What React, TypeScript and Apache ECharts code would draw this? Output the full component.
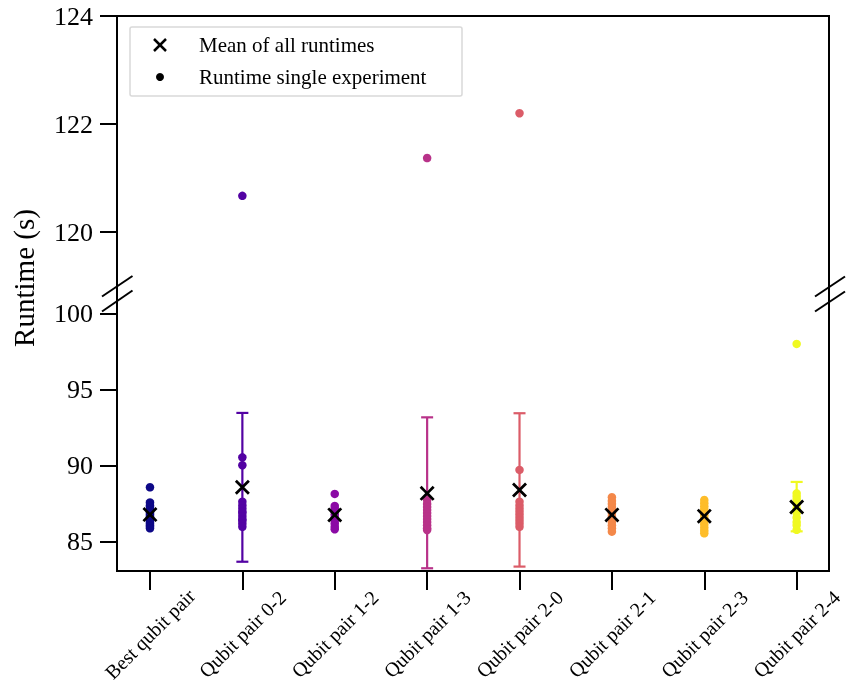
import React, { useEffect, useRef } from "react";
import * as echarts from "echarts";

const categories = [
  "Best qubit pair",
  "Qubit pair 0-2",
  "Qubit pair 1-2",
  "Qubit pair 1-3",
  "Qubit pair 2-0",
  "Qubit pair 2-1",
  "Qubit pair 2-3",
  "Qubit pair 2-4",
];
const colors = ["#0d0887", "#5302a3", "#8b0aa5", "#b83289", "#db5c68", "#f48849", "#febd2a", "#f0f921"];

const runsBest = [88.6, 87.6, 87.4, 87.3, 87.1, 87.0, 86.9, 86.8, 86.7, 86.6, 86.5, 86.4, 86.3, 86.2, 86.1, 86.0, 85.9];
const runs02 = [120.67, 90.57, 90.05, 87.65, 87.4, 87.2, 87.0, 86.9, 86.7, 86.5, 86.4, 86.2, 86.0];
const runs12 = [88.16, 87.37, 87.2, 87.0, 86.8, 86.6, 86.4, 86.2, 86.0, 85.84];
const runs13 = [121.37, 87.76, 87.5, 87.3, 87.1, 86.9, 86.7, 86.5, 86.3, 86.1, 85.9, 85.79];
const runs20 = [122.2, 89.74, 87.65, 87.4, 87.2, 87.0, 86.8, 86.6, 86.4, 86.2, 86.0];
const runs21 = [87.94, 87.7, 87.5, 87.3, 87.1, 86.9, 86.7, 86.5, 86.3, 86.1, 85.9, 85.68];
const runs23 = [87.76, 87.55, 87.35, 87.15, 86.95, 86.75, 86.55, 86.35, 86.15, 85.95, 85.75, 85.57];
const runs24 = [98.03, 88.2, 88.0, 87.8, 87.5, 87.2, 86.9, 86.6, 86.3, 86.1, 85.8];
const allRuns = [runsBest, runs02, runs12, runs13, runs20, runs21, runs23, runs24];

const meanVals = [86.8, 88.6, 86.78, 88.2, 88.42, 86.78, 86.7, 87.3];
const errLow = [null, 83.7, null, 83.27, 83.38, null, null, 85.7];
const errHigh = [null, 93.49, null, 93.2, 93.47, null, null, 88.95];

const topTicks = [120, 122, 124];
const bottomTicks = [85, 90, 95, 100];
const tickIdx = [0, 1, 2, 3, 4, 5, 6, 7];

const FONT = "Liberation Serif";
const XSYM = "path://M0,1.3L1.3,0L5,3.7L8.7,0L10,1.3L6.3,5L10,8.7L8.7,10L5,6.3L1.3,10L0,8.7L3.7,5Z";

export default function App() {
  const ref = useRef<HTMLDivElement>(null);
  useEffect(() => {
    if (!ref.current) return;
    const chart = echarts.init(ref.current, null, { renderer: "svg" });
    const L = 117, R = 829, T = 16, B = 571;
    const xMin = -0.357, xMax = 7.35;

    const series: any[] = [];
    allRuns.forEach((runs, i) => {
      series.push({
        type: "scatter",
        xAxisIndex: 0,
        yAxisIndex: 0,
        symbol: "circle",
        symbolSize: 8.5,
        itemStyle: { color: colors[i], opacity: 1 },
        data: runs.filter((v) => v > 110).map((v) => [i, v]),
        z: 3,
      });
    });
    series.push({
      type: "custom",
      xAxisIndex: 1,
      yAxisIndex: 1,
      encode: { x: 0, y: [1, 2] },
      data: errLow
        .map((lo, i) => (lo == null ? null : [i, lo, errHigh[i]]))
        .filter((d) => d != null),
      renderItem: (params: any, api: any) => {
        const x = api.value(0);
        const lo = api.value(1);
        const hi = api.value(2);
        const c = colors[x];
        const pLo = api.coord([x, lo]);
        const pHi = api.coord([x, hi]);
        const w = 6;
        const st = { stroke: c, lineWidth: 2.2 };
        return {
          type: "group",
          children: [
            { type: "line", shape: { x1: pLo[0], y1: pLo[1], x2: pHi[0], y2: pHi[1] }, style: st },
            { type: "line", shape: { x1: pLo[0] - w, y1: pLo[1], x2: pLo[0] + w, y2: pLo[1] }, style: st },
            { type: "line", shape: { x1: pHi[0] - w, y1: pHi[1], x2: pHi[0] + w, y2: pHi[1] }, style: st },
          ],
        };
      },
      z: 2,
    });
    allRuns.forEach((runs, i) => {
      series.push({
        type: "scatter",
        xAxisIndex: 1,
        yAxisIndex: 1,
        symbol: "circle",
        symbolSize: 8.5,
        itemStyle: { color: colors[i], opacity: 1 },
        data: runs.filter((v) => v < 110).map((v) => [i, v]),
        z: 3,
      });
    });
    series.push({
      type: "scatter",
      xAxisIndex: 1,
      yAxisIndex: 1,
      symbol: XSYM,
      symbolSize: 15,
      itemStyle: { color: "#000", opacity: 1 },
      data: meanVals.map((v, i) => [i, v]),
      z: 5,
    });

    const yAxisCommon = {
      type: "value",
      axisLine: { show: false, onZero: false },
      splitLine: { show: false },
      axisTick: { show: true, length: 17, lineStyle: { color: "#000", width: 2 } },
      axisLabel: { color: "#000", fontFamily: FONT, fontSize: 26, margin: 24 },
    };

    const option: any = {
      animation: false,
      grid: [
        { left: L, right: 848 - R, top: T, height: 270 },
        { left: L, right: 848 - R, top: 300, height: B - 300 },
      ],
      xAxis: [
        { type: "value", gridIndex: 0, min: xMin, max: xMax, show: false },
        {
          type: "value",
          gridIndex: 1,
          min: xMin,
          max: xMax,
          axisLine: { show: false, onZero: false },
          splitLine: { show: false },
          axisTick: { show: true, length: 19, customValues: tickIdx, lineStyle: { color: "#000", width: 2 } },
          axisLabel: {
            customValues: tickIdx,
            formatter: (v: number) => categories[Math.round(v)] ?? "",
            rotate: 45,
            align: "center",
            verticalAlign: "middle",
            margin: 63,
            color: "#000",
            fontFamily: FONT,
            fontSize: 20,
          },
        },
      ],
      yAxis: [
        {
          ...yAxisCommon,
          gridIndex: 0,
          min: 119,
          max: 124,
          axisTick: { ...yAxisCommon.axisTick, customValues: topTicks },
          axisLabel: { ...yAxisCommon.axisLabel, customValues: topTicks },
        },
        {
          ...yAxisCommon,
          gridIndex: 1,
          min: 83.09,
          max: 100.92,
          axisTick: { ...yAxisCommon.axisTick, customValues: bottomTicks },
          axisLabel: { ...yAxisCommon.axisLabel, customValues: bottomTicks },
        },
      ],
      series,
      graphic: [
        {
          type: "rect",
          shape: { x: L, y: T, width: R - L, height: B - T },
          style: { fill: "none", stroke: "#000", lineWidth: 2 },
          z: 10,
        },
        { type: "line", shape: { x1: 102, y1: 296.5, x2: 132.5, y2: 276 }, style: { stroke: "#000", lineWidth: 2 }, z: 11 },
        { type: "line", shape: { x1: 102, y1: 311.5, x2: 132.5, y2: 290.5 }, style: { stroke: "#000", lineWidth: 2 }, z: 11 },
        { type: "line", shape: { x1: 815, y1: 296.5, x2: 845, y2: 276.5 }, style: { stroke: "#000", lineWidth: 2 }, z: 11 },
        { type: "line", shape: { x1: 815, y1: 311.5, x2: 845, y2: 291.5 }, style: { stroke: "#000", lineWidth: 2 }, z: 11 },
        {
          type: "text",
          x: 24,
          y: 278,
          rotation: Math.PI / 2,
          style: {
            text: "Runtime (s)",
            fontFamily: FONT,
            fontSize: 29,
            fill: "#000",
            align: "center",
            verticalAlign: "middle",
          },
          z: 11,
        },
        {
          type: "rect",
          shape: { x: 130, y: 27, width: 332, height: 69, r: 2 },
          style: { fill: "rgba(255,255,255,0.8)", stroke: "#d9d9d9", lineWidth: 1.5 },
          z: 12,
        },
        {
          type: "line",
          shape: { x1: 154, y1: 39, x2: 166, y2: 51 },
          style: { stroke: "#000", lineWidth: 2.5 },
          z: 13,
        },
        {
          type: "line",
          shape: { x1: 166, y1: 39, x2: 154, y2: 51 },
          style: { stroke: "#000", lineWidth: 2.5 },
          z: 13,
        },
        { type: "circle", shape: { cx: 160, cy: 77, r: 4 }, style: { fill: "#000" }, z: 13 },
        {
          type: "text",
          x: 199,
          y: 45,
          style: { text: "Mean of all runtimes", fontFamily: FONT, fontSize: 21, fill: "#000", align: "left", verticalAlign: "middle" },
          z: 13,
        },
        {
          type: "text",
          x: 199,
          y: 77,
          style: { text: "Runtime single experiment", fontFamily: FONT, fontSize: 21, fill: "#000", align: "left", verticalAlign: "middle" },
          z: 13,
        },
      ],
    };
    chart.setOption(option);
    return () => chart.dispose();
  }, []);
  return <div ref={ref} style={{ position: "fixed", left: 0, top: 0, width: 848, height: 688 }} />;
}
